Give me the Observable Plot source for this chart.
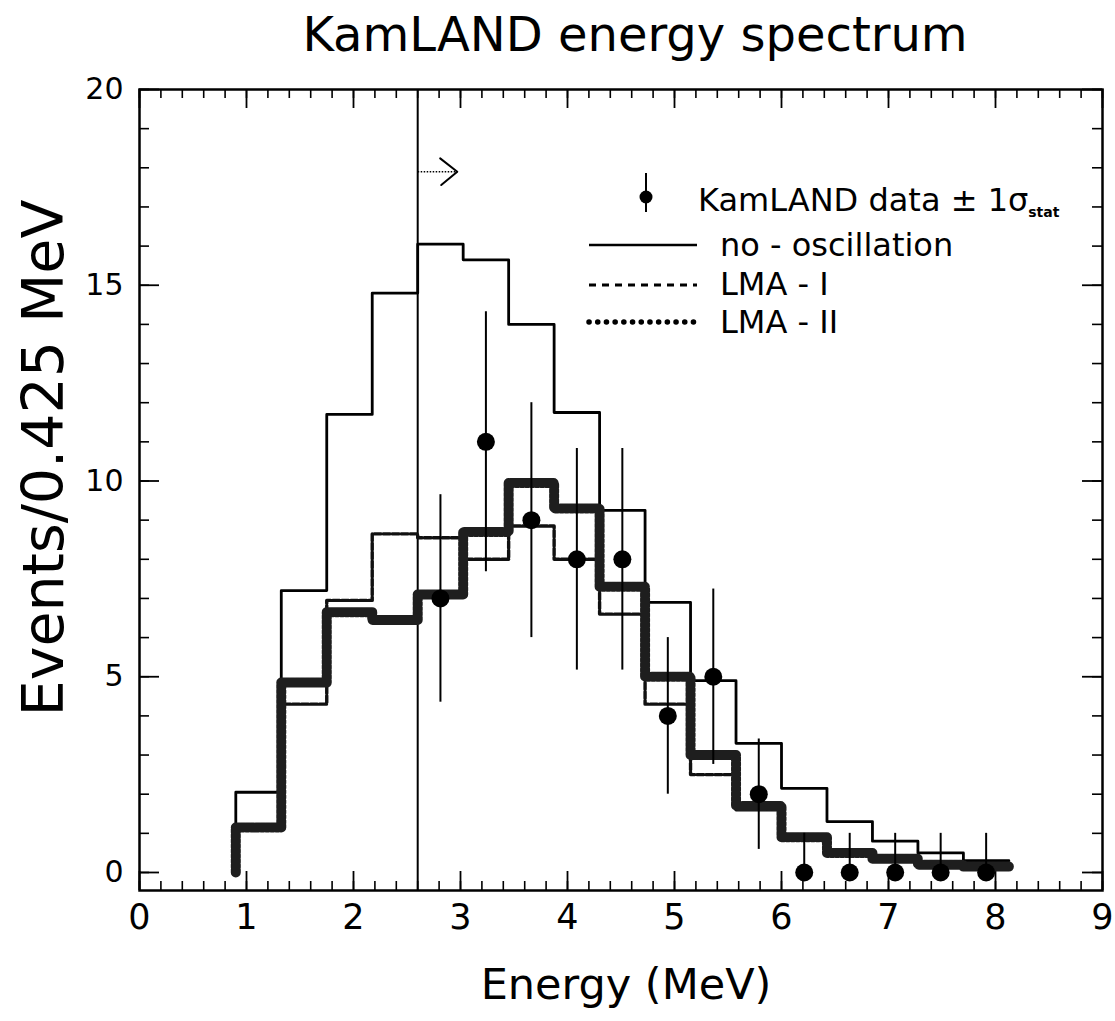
<!DOCTYPE html>
<html><head><meta charset="utf-8">
<script src="https://cdn.jsdelivr.net/npm/d3@7"></script>
<script src="https://cdn.jsdelivr.net/npm/@observablehq/plot@0.6"></script>
<style>
body{margin:0;background:#fff;}
#wrap{position:relative;width:1115px;height:1021px;overflow:hidden;}
#wrap svg{position:absolute;left:0;top:0;}
</style></head><body><div id="wrap"></div>
<script>
// ---- data ----
const binEdges = [0.9, 1.325, 1.75, 2.175, 2.6, 3.025, 3.45, 3.875, 4.3, 4.725, 5.15, 5.575, 6.0, 6.425, 6.85, 7.275, 7.7, 8.125];
const noOscillation = [2.05, 7.2, 11.7, 14.8, 16.05, 15.65, 14.0, 11.75, 9.25, 6.9, 4.9, 3.3, 2.15, 1.3, 0.8, 0.5, 0.3];
const lmaI  = [1.15, 4.3, 6.95, 8.65, 8.55, 8.0, 8.85, 8.0, 6.6, 4.3, 2.5, 1.6, 0.85, 0.5, 0.35, 0.2, 0.15];
const lmaII = [1.15, 4.85, 6.65, 6.45, 7.1, 8.7, 9.95, 9.3, 7.3, 5.0, 3.0, 1.7, 0.9, 0.5, 0.35, 0.2, 0.15];
const dataEnergy = [2.8125, 3.2375, 3.6625, 4.0875, 4.5125, 4.9375, 5.3625, 5.7875, 6.2125, 6.6375, 7.0625, 7.4875, 7.9125];
const dataCounts = [7, 11, 9, 8, 8, 4, 5, 2, 0, 0, 0, 0, 0];
const errLow  = [2.65, 3.32, 3.0, 2.83, 2.83, 2.0, 2.24, 1.41, 0, 0, 0, 0, 0];
const errHigh = [2.65, 3.32, 3.0, 2.83, 2.83, 2.0, 2.24, 1.41, 1.0, 1.0, 1.0, 1.0, 1.0];
const thresholdEnergy = 2.6;
const arrowEnd = 2.97, arrowLevel = 17.9;
const xMajorTicks = d3.range(0, 10);
const xMinorTicks = d3.range(0, 46).map(i => i / 5);
const yMajorTicks = [0, 5, 10, 15, 20];
const yMinorTicks = d3.range(0, 21);
const titleText = "KamLAND energy spectrum";
const xLabel = "Energy (MeV)";
const yLabel = "Events/0.425 MeV";

// ---- build step-histogram point lists ----
function steps(vals) {
  const pts = [{x: binEdges[0], y: 0}];
  vals.forEach((v, i) => { pts.push({x: binEdges[i], y: v}); pts.push({x: binEdges[i + 1], y: v}); });
  return pts;
}
const pointsTable = dataEnergy.map((e, i) => ({e, n: dataCounts[i], lo: dataCounts[i] - errLow[i], hi: dataCounts[i] + errHigh[i]}));
// open chevron head of the threshold arrow
const arrowHead = [
  {x: arrowEnd - 0.16, y: arrowLevel + 0.34},
  {x: arrowEnd, y: arrowLevel},
  {x: arrowEnd - 0.15, y: arrowLevel - 0.34}
];

const W = 1115, H = 1021, mL = 139, mR = 13, mT = 89, mB = 131;
const frameH = H - mT - mB, frameW = W - mL - mR;
const FONT = "DejaVu Sans";

const chart = Plot.plot({
  width: W, height: H,
  marginLeft: mL, marginRight: mR, marginTop: mT, marginBottom: mB,
  style: {fontFamily: FONT, background: "#fff", color: "#000"},
  x: {domain: [0, 9]},
  y: {domain: [-0.46, 20]},
  marks: [
    // inward ticks, bottom/top
    Plot.tickX(xMinorTicks, {x: d => d, insetTop: frameH - 9, strokeWidth: 1.6}),
    Plot.tickX(xMajorTicks, {x: d => d, insetTop: frameH - 19, strokeWidth: 1.8}),
    Plot.tickX(xMinorTicks, {x: d => d, insetBottom: frameH - 9, strokeWidth: 1.6}),
    Plot.tickX(xMajorTicks, {x: d => d, insetBottom: frameH - 19, strokeWidth: 1.8}),
    // inward ticks, left/right
    Plot.tickY(yMinorTicks, {y: d => d, insetRight: frameW - 10, strokeWidth: 1.6}),
    Plot.tickY(yMajorTicks, {y: d => d, insetRight: frameW - 20, strokeWidth: 1.8}),
    Plot.tickY(yMinorTicks, {y: d => d, insetLeft: frameW - 10, strokeWidth: 1.6}),
    Plot.tickY(yMajorTicks, {y: d => d, insetLeft: frameW - 20, strokeWidth: 1.8}),
    Plot.axisX({anchor: "bottom", ticks: xMajorTicks, tickSize: 0, tickPadding: 14, fontSize: 35, label: null, tickFormat: d3.format("d")}),
    Plot.axisY({anchor: "left", ticks: yMajorTicks, tickSize: 0, tickPadding: 16, fontSize: 30, label: null, tickFormat: d3.format("d")}),
    // threshold line and arrow
    Plot.ruleX([thresholdEnergy], {strokeWidth: 2}),
    Plot.link([{x1: thresholdEnergy, x2: arrowEnd, y: arrowLevel}], {x1: "x1", x2: "x2", y1: "y", y2: "y", strokeWidth: 1.6, strokeDasharray: "1.5,1.5"}),
    Plot.line(arrowHead, {x: "x", y: "y", strokeWidth: 2, stroke: "#000"}),
    // histograms
    Plot.line(steps(noOscillation), {x: "x", y: "y", strokeWidth: 2.8, stroke: "#000"}),
    Plot.line(steps(lmaI), {x: "x", y: "y", strokeWidth: 3.4, stroke: "#111", strokeDasharray: "7,2"}),
    Plot.line(steps(lmaII), {x: "x", y: "y", strokeWidth: 10, stroke: "#1e1e1e", strokeDasharray: "3,2", strokeLinecap: "round", strokeLinejoin: "round"}),
    // data
    Plot.ruleX(pointsTable, {x: "e", y1: "lo", y2: "hi", strokeWidth: 2}),
    Plot.dot(pointsTable, {x: "e", y: "n", r: 9, fill: "#000", stroke: null}),
    Plot.frame({strokeWidth: 2.5}),
    // titles
    Plot.text([titleText], {frameAnchor: "top", dx: 14, dy: -39, lineAnchor: "bottom", fontSize: 48, text: d => d}),
    Plot.text([xLabel], {frameAnchor: "bottom", dx: 5, dy: 108, lineAnchor: "bottom", fontSize: 43, text: d => d}),
    Plot.text([yLabel], {frameAnchor: "left", textAnchor: "middle", dx: -95, dy: -32, rotate: -90, lineAnchor: "middle", fontSize: 57, text: d => d})
  ]
});
document.getElementById("wrap").appendChild(chart);

// ---- legend overlay ----
const lg = d3.select("#wrap").append("svg").attr("width", W).attr("height", H)
  .style("pointer-events", "none").attr("font-family", FONT);
lg.append("line").attr("x1", 646).attr("x2", 646).attr("y1", 173).attr("y2", 212).attr("stroke", "#000").attr("stroke-width", 2);
lg.append("circle").attr("cx", 646).attr("cy", 197).attr("r", 6.5).attr("fill", "#000");
const t1 = lg.append("text").attr("x", 698).attr("y", 211).attr("font-size", 32);
t1.append("tspan").text("KamLAND  data ± 1σ");
t1.append("tspan").attr("font-size", 14).attr("font-weight", "bold").attr("dy", 6).text("stat");
const items = [
  {label: "no - oscillation", y: 245, base: 256, dash: null, w: 2.4},
  {label: "LMA - I", y: 285, base: 295, dash: "7,6", w: 3.2},
  {label: "LMA - II", y: 322, base: 333, dash: "0.1,8.6", w: 5.5}
];
items.forEach(it => {
  const l = lg.append("line").attr("x1", 589).attr("x2", 697).attr("y1", it.y).attr("y2", it.y)
    .attr("stroke", "#000").attr("stroke-width", it.w);
  if (it.dash) l.attr("stroke-dasharray", it.dash).attr("stroke-linecap", it.label === "LMA - II" ? "round" : "butt");
  lg.append("text").attr("x", 720).attr("y", it.base).attr("font-size", 32).text(it.label);
});
</script></body></html>
